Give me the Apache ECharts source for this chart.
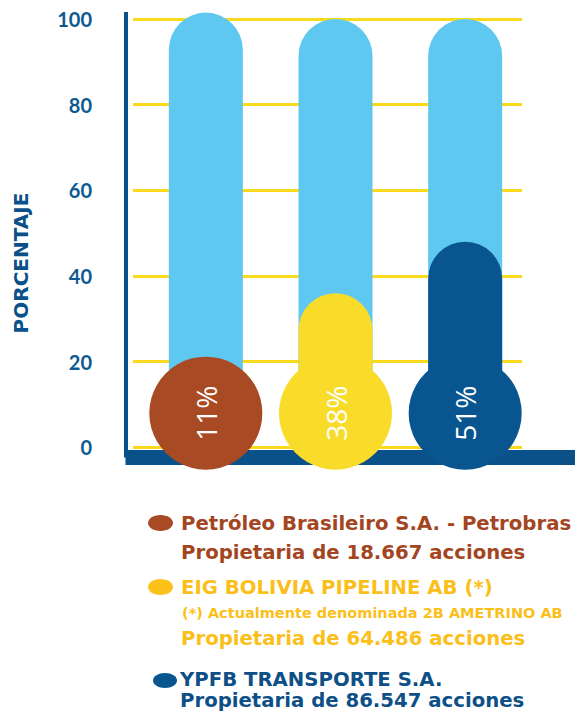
<!DOCTYPE html>
<html><head><meta charset="utf-8">
<script src="https://cdn.jsdelivr.net/npm/echarts@6/dist/echarts.min.js"></script>
<style>html,body{margin:0;padding:0;background:#fff}#c{width:575px;height:712px}</style>
</head><body><div id="c"></div>
<script>
const categories = ['Petrobras', 'EIG BOLIVIA PIPELINE AB', 'YPFB TRANSPORTE S.A.'];
const shares = [11, 38, 51];            // % shown in the circles
const fillLevels = [11, 36, 48];        // height of the coloured column as drawn
const totalLevels = [101.5, 100, 100];  // light-blue background column
const circleLevel = [8, 8, 8];          // centre of the round bulb
const yTicks = [0, 20, 40, 60, 80, 100];
const colors = ['#a84a23', '#f9dc2a', '#08558f'];
const legendColors = ['#a84a23', '#fcc21a', '#08558f'];
const textColors = ['#a3461f', '#fbbf1b', '#0d4f86'];
const ownerNames = ['Petróleo Brasileiro S.A. - Petrobras', 'EIG BOLIVIA PIPELINE AB (*)', 'YPFB TRANSPORTE S.A.'];
const ownerShares = ['Propietaria de 18.667 acciones', 'Propietaria de 64.486 acciones', 'Propietaria de 86.547 acciones'];
const ownerNote = '(*) Actualmente denominada 2B AMETRINO AB';
const yName = 'PORCENTAJE';

const axisBlue = '#0b5189';
const LFONT = 'bold 19.7px "DejaVu Sans"';

const chart = echarts.init(document.getElementById('c'), null, {renderer: 'svg'});

function txt(x, y, text, fill, font) {
  return {type: 'text', x: x, y: y,
    style: {text: text, fill: fill, font: font, textVerticalAlign: 'middle', verticalAlign: 'middle'}};
}

const graphics = [
  {type: 'text', rotation: Math.PI / 2, x: 21, y: 263,
   style: {text: yName, fill: axisBlue, font: 'bold 20px "DejaVu Sans"', textAlign: 'center', textVerticalAlign: 'middle', align: 'center', verticalAlign: 'middle'}},
  {type: 'ellipse', shape: {cx: 160.5, cy: 523, rx: 12.5, ry: 8}, style: {fill: legendColors[0]}},
  {type: 'ellipse', shape: {cx: 160.5, cy: 587, rx: 12.5, ry: 8}, style: {fill: legendColors[1]}},
  {type: 'ellipse', shape: {cx: 165, cy: 680.5, rx: 12, ry: 7.5}, style: {fill: legendColors[2]}},
  txt(181, 523, ownerNames[0], textColors[0], LFONT),
  txt(181, 552, ownerShares[0], textColors[0], LFONT),
  txt(181, 587, ownerNames[1], textColors[1], LFONT),
  txt(182, 613, ownerNote, textColors[1], 'bold 14.5px "DejaVu Sans"'),
  txt(181, 638, ownerShares[1], textColors[1], LFONT),
  {type: 'text', x: 180, y: 669,
   style: {text: ownerNames[2] + '\n' + ownerShares[2], fill: textColors[2], font: LFONT, lineHeight: 21,
           textVerticalAlign: 'top', verticalAlign: 'top'}}
];

chart.setOption({
  animation: false,
  backgroundColor: '#ffffff',
  grid: [
    {left: 125.5, right: 0, top: 12, bottom: 254.5},   // frame (axis lines)
    {left: 133, right: 53, top: 19, bottom: 264.6},     // grid lines + labels
    {left: 141, right: 45, top: 19, bottom: 264.6}      // bars
  ],
  xAxis: [
    {gridIndex: 0, type: 'category', data: ['a'], axisLine: {onZero: false, lineStyle: {color: axisBlue, width: 15, cap: 'butt'}}, axisTick: {show: false}, axisLabel: {show: false}, splitLine: {show: false}},
    {gridIndex: 1, type: 'category', data: categories, show: false},
    {gridIndex: 2, type: 'category', data: categories, show: false}
  ],
  yAxis: [
    {gridIndex: 0, type: 'value', min: 0, max: 1, axisLine: {show: true, onZero: false, lineStyle: {color: axisBlue, width: 4, cap: 'butt'}}, axisTick: {show: false}, axisLabel: {show: false}, splitLine: {show: false}},
    {gridIndex: 1, type: 'value', min: yTicks[0], max: yTicks[yTicks.length - 1], interval: 20,
     axisLine: {show: false}, axisTick: {show: false},
     axisLabel: {margin: 41, color: '#0d5a93', fontSize: 20, fontWeight: 'bold', fontFamily: 'Lato'},
     splitLine: {lineStyle: {color: '#f9d91c', width: 3}}},
    {gridIndex: 2, type: 'value', min: 0, max: 100, show: false}
  ],
  series: [
    {type: 'bar', xAxisIndex: 2, yAxisIndex: 2, data: totalLevels, barWidth: 74, barGap: '-100%', clip: false, z: 2,
     itemStyle: {color: '#5fc8f1', borderRadius: [37, 37, 0, 0]}},
    {type: 'bar', xAxisIndex: 2, yAxisIndex: 2, barWidth: 74, barGap: '-100%', clip: false, z: 3,
     data: fillLevels.map((v, i) => ({value: v, itemStyle: {color: colors[i]}})),
     itemStyle: {borderRadius: [37, 37, 0, 0]}},
    {type: 'scatter', xAxisIndex: 2, yAxisIndex: 2, symbolSize: 113, clip: false, z: 4,
     data: circleLevel.map((v, i) => ({value: v, itemStyle: {color: colors[i], opacity: 1}})),
     label: {show: true, position: 'inside', rotate: 90, color: '#ffffff', fontSize: 28, fontFamily: 'Open Sans',
       formatter: p => shares[p.dataIndex] + '%'}}
  ],
  graphic: graphics
});
</script></body></html>
